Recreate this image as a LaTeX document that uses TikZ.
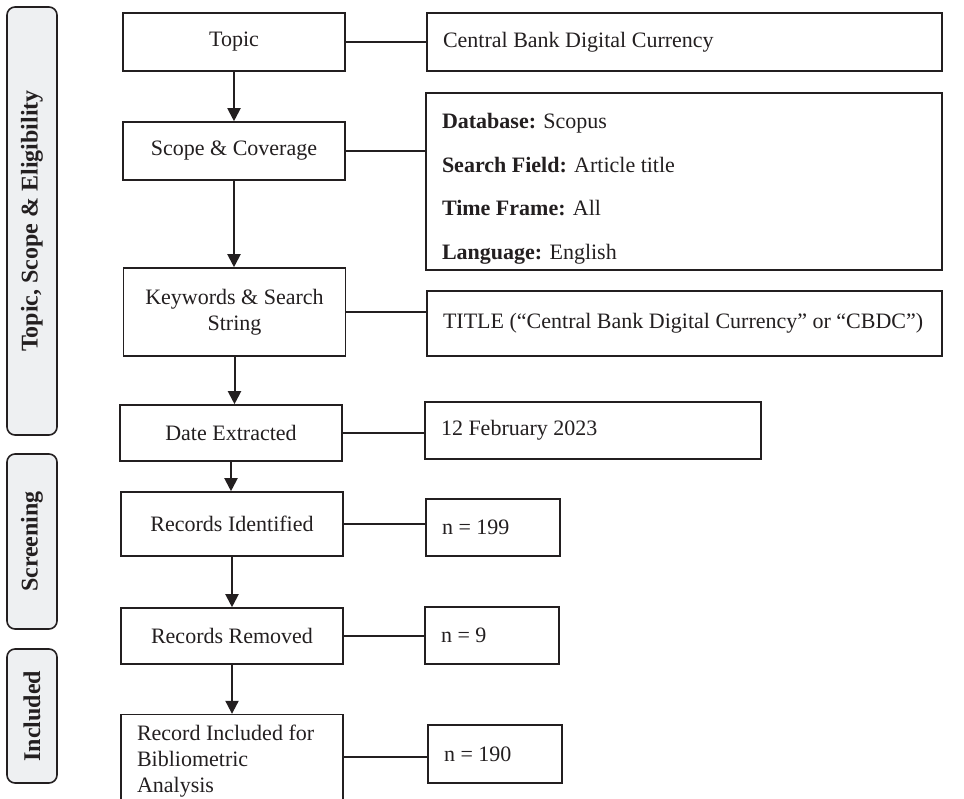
\documentclass[tikz,border=0pt]{standalone}
\usepackage{fontspec}
\setmainfont{Liberation Serif}
\usetikzlibrary{arrows.meta,positioning}
\definecolor{ink}{HTML}{231F20}
\definecolor{sidegray}{HTML}{EEF0F2}
\tikzset{
flow/.style={x=1pt,y=-1pt,color=ink,line width=1.6pt,
    font=\fontsize{22}{26}\selectfont},
stage/.style={rectangle,draw,fill=white,minimum width=222pt,
    minimum height=#1,align=center,inner sep=2pt},
stage/.default={58pt},
info/.style={rectangle,draw,fill=white,text width=#1,align=flush left,
    inner xsep=16pt,inner ysep=2pt},
phase/.style={rectangle,draw,rounded corners=8pt,fill=sidegray,rotate=90,
    minimum height=50pt,minimum width=#1,inner sep=2pt,
    font=\fontsize{24}{28}\selectfont\bfseries},
arr/.style={-{Triangle[length=13pt,width=13pt]},line width=2pt},
link/.style={-,line width=1.6pt},
}

\begin{document}
\begin{tikzpicture}[flow]
    \useasboundingbox (0,0) rectangle (964,798);

    % phases on the left
    \node[phase=428pt] (p1) at (32,221) {Topic, Scope \& Eligibility};
    \node[phase=175pt] (p2) at (32,541.5) {Screening};
    \node[phase=134pt] (p3) at (32,716) {Included};

    % main steps
    \node[stage] (topic) at (234,42) {Topic};
    \node[stage] (scope) at (234,151) {Scope \& Coverage};
    \node[stage=88pt] (keys) at (234.5,312) {Keywords \& Search\\String};
    \node[stage=56pt] (date) at (231,433) {Date Extracted};
    \node[stage=64pt] (ident) at (232,524) {Records Identified};
    \node[stage=56pt] (removed) at (232,636) {Records Removed};
    \node[stage=84pt,text width=190pt,align=flush left] (incl) at (232,757)
        {\rule{0pt}{24pt}Record Included for\\Bibliometric\\Analysis};

    % details
    \node[info=483pt,minimum height=58pt] (cbdc) at (684.5,42)
        {Central Bank Digital Currency};
    \node[info=484pt,minimum height=177pt] (db) at (684,181.5)
        {\rule{0pt}{30pt}\textbf{Database:} Scopus\\[17.7pt]
         \textbf{Search Field:} Article title\\[17.7pt]
         \textbf{Time Frame:} All\\[17.7pt]
         \textbf{Language:} English};
    \node[info=483pt,minimum height=65pt] (str) at (684.5,323.5)
        {TITLE (``Central Bank Digital Currency'' or ``CBDC'')};
    \node[info=304pt,minimum height=57pt] (day) at (593,430.5)
        {12 February 2023};
    \node[info=102pt,minimum height=57pt] (n1) at (493,527.5) {n = 199};
    \node[info=102pt,minimum height=57pt] (n2) at (492,635.5) {n = 9};
    \node[info=102pt,minimum height=58pt] (n3) at (495,754) {n = 190};

    \path[arr]
        (topic) edge (topic |- scope.north)
        (scope) edge (scope |- keys.north)
        (keys) edge (keys |- date.north)
        (date) edge (date |- ident.north)
        (ident) edge (ident |- removed.north)
        (removed) edge (removed |- incl.north)
    ;
    \path[link]
        (topic) edge (topic -| cbdc.west)
        (scope) edge (scope -| db.west)
        (keys) edge (keys -| str.west)
        (date) edge (date -| day.west)
        (ident) edge (ident -| n1.west)
        (removed) edge (removed -| n2.west)
        (incl) edge (incl -| n3.west)
    ;
\end{tikzpicture}
\end{document}
